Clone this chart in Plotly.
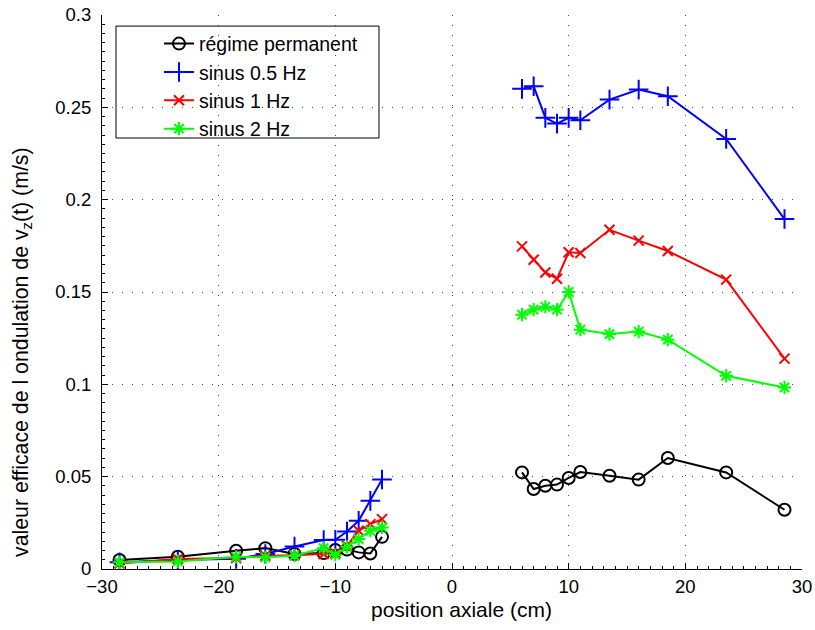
import plotly.graph_objects as go

# Axial measurement positions (cm), upstream and downstream of the section
pos_left = [-28.5, -23.5, -18.5, -16, -13.5, -11, -10, -9, -8, -7, -6]
pos_right = [6, 7, 8, 9, 10, 11, 13.5, 16, 18.5, 23.5, 28.5]

# RMS value of the v_z(t) ripple (m/s)
perm_left = [0.0049, 0.0066, 0.0099, 0.0113, 0.0081, 0.0086, 0.0103, 0.0105, 0.0090, 0.0084, 0.0174]
perm_right = [0.0523, 0.0433, 0.0451, 0.0457, 0.0493, 0.0525, 0.0505, 0.0484, 0.0601, 0.0523, 0.0321]

s05_left = [0.0036, 0.0049, 0.0055, 0.0081, 0.0122, 0.0157, 0.0158, 0.0203, 0.0261, 0.0369, 0.0485]
s05_right = [0.2600, 0.2614, 0.2443, 0.2412, 0.2443, 0.2430, 0.2542, 0.2596, 0.2560, 0.2329, 0.1895]

s1_left = [0.0030, 0.0054, 0.0060, 0.0072, 0.0075, 0.0081, 0.0085, 0.0125, 0.0207, 0.0243, 0.0270]
s1_right = [0.1747, 0.1675, 0.1606, 0.1572, 0.1715, 0.1711, 0.1837, 0.1778, 0.1722, 0.1567, 0.1139]

s2_left = [0.0036, 0.0041, 0.0066, 0.0063, 0.0072, 0.0113, 0.0076, 0.0120, 0.0162, 0.0207, 0.0225]
s2_right = [0.1377, 0.1405, 0.1420, 0.1405, 0.1500, 0.1296, 0.1272, 0.1286, 0.1242, 0.1046, 0.0983]

series = [
    ("régime permanent", perm_left, perm_right, "black", "circle-open", 12),
    ("sinus 0.5 Hz", s05_left, s05_right, "#0000ff", "cross-thin-open", 14),
    ("sinus 1 Hz", s1_left, s1_right, "#ff0000", "x-thin-open", 10),
    ("sinus 2 Hz", s2_left, s2_right, "#00ff00", "asterisk-open", 11),
]

FONT = "Liberation Sans, Arial, Helvetica, sans-serif"
X_TITLE = "position axiale (cm)"
Y_TITLE = "valeur efficace de l ondulation de v<sub>z</sub>(t) (m/s)"

fig = go.Figure()
for name, left, right, color, symbol, size in series:
    # None breaks the line between the two measurement zones
    fig.add_trace(go.Scatter(
        x=pos_left + [None] + pos_right,
        y=left + [None] + right,
        name=name,
        mode="lines+markers",
        connectgaps=False,
        line=dict(color=color, width=2),
        marker=dict(symbol=symbol, size=size, color=color,
                    line=dict(color=color, width=2)),
    ))

axis_common = dict(
    showline=True, linecolor="black", linewidth=1, mirror=False,
    ticks="inside", ticklen=6, tickcolor="black", tickwidth=1,
    showgrid=True, gridcolor="#444444", gridwidth=1, griddash="1px,9px",
    zeroline=False,
    tickfont=dict(family=FONT, size=18.5, color="black"),
)

fig.update_xaxes(
    range=[-30, 30], tick0=-30, dtick=10,
    minor=dict(ticks="inside", ticklen=3, dtick=1, tickcolor="black", showgrid=False),
    ticklabelstandoff=1,
    **axis_common,
)
fig.update_yaxes(
    range=[0, 0.3], tick0=0, dtick=0.05,
    minor=dict(ticks="inside", ticklen=3, dtick=0.005, tickcolor="black", showgrid=False),
    ticklabelstandoff=6,
    **axis_common,
)

# Axis titles
fig.add_annotation(
    text=X_TITLE, showarrow=False,
    xref="paper", yref="paper", x=0.514, y=-0.073,
    xanchor="center", yanchor="middle",
    font=dict(family=FONT, size=21, color="black"),
)
fig.add_annotation(
    text=Y_TITLE, textangle=-90, showarrow=False,
    xref="paper", yref="paper", x=-0.1143, y=0.3917,
    xanchor="center", yanchor="middle",
    font=dict(family=FONT, size=21.3, color="black"),
)

# Legend frame: white box with black border, drawn above the grid
fig.add_shape(
    type="rect", xref="paper", yref="paper",
    x0=0.02, x1=0.3957, y0=0.778, y1=0.980,
    fillcolor="white", line=dict(color="black", width=1), layer="between",
)

fig.update_layout(
    width=815, height=630,
    margin=dict(l=102, r=13, t=15, b=61, autoexpand=False),
    paper_bgcolor="white", plot_bgcolor="white",
    showlegend=True,
    legend=dict(
        x=0.0814, y=0.983, xanchor="left", yanchor="top",
        bgcolor="rgba(0,0,0,0)", borderwidth=0,
        font=dict(family=FONT, size=19.5, color="black"),
        tracegroupgap=0,
    ),
)

fig.write_html("out.html")
